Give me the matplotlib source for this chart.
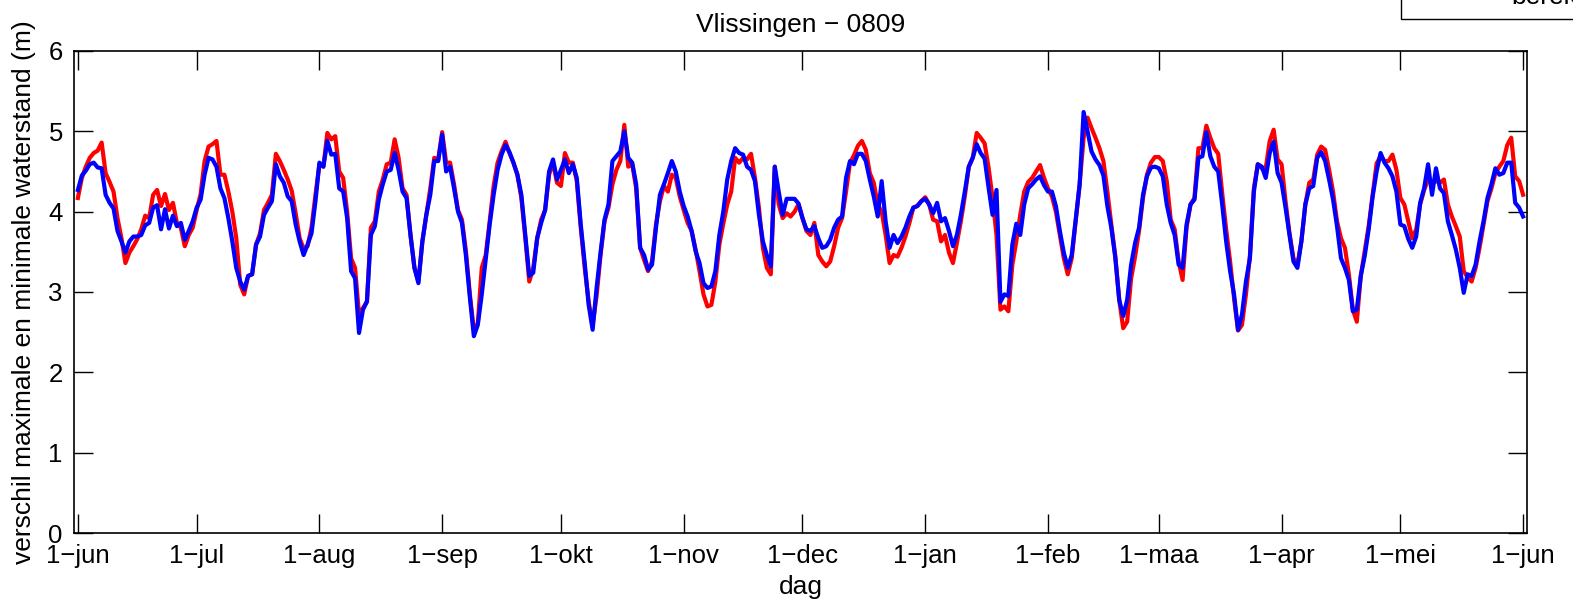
import numpy as np
import pandas as pd
import matplotlib
matplotlib.use("Agg")
import matplotlib.pyplot as plt
import matplotlib.dates as mdates

# daily values, 1 jun 2008 .. 1 jun 2009
gemeten = [
    4.17, 4.42, 4.56, 4.67, 4.73, 4.76, 4.86, 4.48, 4.37, 4.25, 3.92, 3.67, 3.36, 3.49, 3.57, 3.66,
    3.78, 3.95, 3.92, 4.21, 4.27, 4.07, 4.22, 4.02, 4.11, 3.86, 3.80, 3.57, 3.71, 3.80, 4.02, 4.22,
    4.63, 4.81, 4.84, 4.88, 4.46, 4.46, 4.25, 4.00, 3.67, 3.09, 2.97, 3.20, 3.22, 3.59, 3.73, 4.02,
    4.11, 4.21, 4.72, 4.63, 4.52, 4.40, 4.26, 3.98, 3.67, 3.54, 3.57, 3.80, 4.21, 4.59, 4.56, 4.98,
    4.90, 4.94, 4.50, 4.42, 4.00, 3.42, 3.30, 2.72, 2.80, 2.88, 3.80, 3.88, 4.25, 4.40, 4.59, 4.61,
    4.90, 4.67, 4.29, 4.21, 3.71, 3.30, 3.13, 3.63, 3.96, 4.29, 4.67, 4.65, 4.99, 4.61, 4.61, 4.34,
    4.02, 3.90, 3.51, 2.97, 2.53, 2.61, 3.30, 3.46, 3.88, 4.32, 4.61, 4.75, 4.87, 4.73, 4.61, 4.46,
    4.17, 3.67, 3.13, 3.30, 3.67, 3.90, 4.02, 4.46, 4.61, 4.36, 4.32, 4.73, 4.61, 4.61, 4.38, 3.80,
    3.30, 2.88, 2.59, 2.95, 3.46, 3.88, 4.05, 4.34, 4.52, 4.63, 5.08, 4.56, 4.59, 4.29, 3.55, 3.40,
    3.26, 3.38, 3.84, 4.13, 4.32, 4.25, 4.46, 4.42, 4.19, 4.02, 3.86, 3.76, 3.53, 3.26, 2.97, 2.82,
    2.84, 3.13, 3.59, 3.85, 4.09, 4.25, 4.67, 4.61, 4.67, 4.65, 4.72, 4.42, 4.05, 3.55, 3.30, 3.22,
    4.56, 4.09, 3.92, 3.98, 3.94, 4.00, 4.09, 3.92, 3.76, 3.71, 3.86, 3.46, 3.38, 3.32, 3.38, 3.57,
    3.80, 3.92, 4.25, 4.61, 4.70, 4.82, 4.88, 4.77, 4.48, 4.36, 4.09, 4.00, 3.71, 3.36, 3.46, 3.44,
    3.55, 3.69, 3.86, 4.05, 4.07, 4.13, 4.18, 4.09, 3.90, 3.88, 3.63, 3.71, 3.49, 3.36, 3.61, 3.88,
    4.19, 4.56, 4.67, 4.98, 4.92, 4.85, 4.55, 4.17, 3.71, 2.78, 2.82, 2.76, 3.34, 3.63, 3.96, 4.25,
    4.37, 4.42, 4.50, 4.58, 4.42, 4.29, 4.19, 4.00, 3.71, 3.42, 3.22, 3.42, 3.88, 4.34, 4.92, 5.17,
    5.04, 4.92, 4.79, 4.63, 4.25, 3.84, 3.45, 2.90, 2.55, 2.63, 3.17, 3.44, 3.76, 4.17, 4.46, 4.61,
    4.68, 4.68, 4.63, 4.38, 3.90, 3.78, 3.38, 3.15, 3.80, 4.09, 4.17, 4.79, 4.79, 5.07, 4.92, 4.79,
    4.72, 4.23, 3.78, 3.38, 2.92, 2.52, 2.59, 2.97, 3.45, 4.29, 4.59, 4.54, 4.54, 4.88, 5.02, 4.65,
    4.59, 4.13, 3.73, 3.42, 3.34, 3.63, 4.09, 4.36, 4.40, 4.71, 4.81, 4.77, 4.52, 4.25, 3.88, 3.67,
    3.55, 3.22, 2.78, 2.63, 3.20, 3.51, 3.82, 4.21, 4.60, 4.69, 4.63, 4.63, 4.71, 4.52, 4.17, 4.09,
    3.88, 3.67, 3.78, 4.09, 4.27, 4.40, 4.36, 4.38, 4.36, 4.40, 4.09, 3.94, 3.82, 3.69, 3.26, 3.18,
    3.13, 3.30, 3.55, 3.84, 4.13, 4.29, 4.48, 4.56, 4.63, 4.83, 4.92, 4.44, 4.38, 4.21,
]
berekend = [
    4.27, 4.45, 4.51, 4.59, 4.61, 4.55, 4.54, 4.21, 4.11, 4.04, 3.76, 3.63, 3.49, 3.63, 3.69, 3.69,
    3.71, 3.83, 3.86, 4.05, 4.08, 3.78, 4.03, 3.79, 3.95, 3.82, 3.86, 3.65, 3.76, 3.88, 4.05, 4.15,
    4.46, 4.67, 4.65, 4.56, 4.29, 4.17, 3.92, 3.63, 3.30, 3.13, 3.03, 3.20, 3.22, 3.59, 3.69, 3.96,
    4.05, 4.13, 4.59, 4.44, 4.36, 4.19, 4.13, 3.84, 3.63, 3.46, 3.59, 3.73, 4.13, 4.61, 4.56, 4.88,
    4.71, 4.72, 4.29, 4.25, 3.92, 3.26, 3.17, 2.49, 2.78, 2.88, 3.71, 3.82, 4.15, 4.34, 4.50, 4.52,
    4.73, 4.52, 4.25, 4.17, 3.71, 3.30, 3.11, 3.63, 3.96, 4.21, 4.63, 4.63, 4.96, 4.50, 4.56, 4.29,
    4.00, 3.86, 3.45, 2.93, 2.45, 2.59, 2.97, 3.40, 3.84, 4.21, 4.52, 4.71, 4.83, 4.74, 4.61, 4.46,
    4.21, 3.71, 3.20, 3.24, 3.67, 3.86, 4.02, 4.50, 4.65, 4.40, 4.52, 4.65, 4.48, 4.59, 4.42, 3.84,
    3.36, 2.84, 2.53, 3.05, 3.49, 3.90, 4.09, 4.63, 4.69, 4.75, 5.00, 4.67, 4.61, 4.34, 3.55, 3.46,
    3.28, 3.34, 3.80, 4.21, 4.34, 4.48, 4.63, 4.50, 4.25, 4.07, 3.94, 3.76, 3.51, 3.36, 3.11, 3.05,
    3.07, 3.26, 3.71, 4.00, 4.40, 4.63, 4.79, 4.73, 4.71, 4.56, 4.52, 4.38, 3.96, 3.63, 3.46, 3.32,
    4.56, 4.25, 3.96, 4.16, 4.16, 4.16, 4.10, 3.92, 3.78, 3.76, 3.82, 3.67, 3.55, 3.57, 3.65, 3.80,
    3.90, 3.94, 4.42, 4.63, 4.59, 4.72, 4.72, 4.63, 4.40, 4.19, 3.94, 4.38, 3.88, 3.55, 3.71, 3.61,
    3.69, 3.80, 3.94, 4.05, 4.07, 4.13, 4.16, 4.09, 3.98, 4.11, 3.88, 3.92, 3.76, 3.57, 3.71, 3.96,
    4.25, 4.56, 4.67, 4.84, 4.73, 4.66, 4.30, 3.96, 4.27, 2.88, 2.97, 2.95, 3.59, 3.85, 3.71, 4.09,
    4.29, 4.34, 4.40, 4.44, 4.33, 4.25, 4.25, 4.07, 3.76, 3.49, 3.30, 3.46, 3.90, 4.34, 5.24, 5.00,
    4.75, 4.65, 4.58, 4.45, 4.07, 3.80, 3.43, 2.90, 2.70, 2.90, 3.34, 3.61, 3.80, 4.21, 4.44, 4.55,
    4.56, 4.54, 4.44, 4.09, 3.86, 3.71, 3.34, 3.30, 3.84, 4.09, 4.15, 4.67, 4.69, 4.99, 4.69, 4.56,
    4.50, 4.09, 3.63, 3.26, 2.97, 2.53, 2.72, 3.13, 3.42, 4.25, 4.59, 4.56, 4.42, 4.73, 4.87, 4.48,
    4.36, 4.05, 3.71, 3.38, 3.30, 3.63, 4.09, 4.29, 4.32, 4.67, 4.74, 4.63, 4.40, 4.15, 3.82, 3.42,
    3.30, 3.15, 2.76, 2.78, 3.20, 3.45, 3.78, 4.19, 4.50, 4.73, 4.61, 4.54, 4.44, 4.25, 3.84, 3.82,
    3.66, 3.55, 3.69, 4.11, 4.29, 4.59, 4.21, 4.54, 4.29, 4.23, 3.88, 3.71, 3.53, 3.30, 2.99, 3.22,
    3.20, 3.34, 3.63, 3.88, 4.17, 4.34, 4.54, 4.46, 4.48, 4.61, 4.61, 4.11, 4.05, 3.94,
]
dagen = pd.date_range("2008-06-01", periods=len(gemeten), freq="D")

maand_ticks = pd.date_range("2008-06-01", "2009-06-01", freq="MS")
maand_labels = ["1\u2212jun", "1\u2212jul", "1\u2212aug", "1\u2212sep", "1\u2212okt", "1\u2212nov",
                "1\u2212dec", "1\u2212jan", "1\u2212feb", "1\u2212maa", "1\u2212apr", "1\u2212mei",
                "1\u2212jun"]

plt.rcParams['font.family'] = ['Liberation Sans', 'DejaVu Sans']
plt.rcParams['font.size'] = 19

fig = plt.figure(figsize=(15.73, 6.07), dpi=100)
ax = fig.add_axes([0.047, 0.1219, 0.9238, 0.7941])

ax.plot(dagen, gemeten, color='#ff0000', lw=3, label='gemeten')
ax.plot(dagen, berekend, color='#0000ff', lw=3, label='berekend')

ax.set_xlim(pd.Timestamp("2008-05-31"), pd.Timestamp("2009-06-02"))
ax.set_ylim(0, 6)
ax.set_xticks(maand_ticks)
ax.set_xticklabels(maand_labels)
ax.set_yticks(range(7))

ax.tick_params(direction='in', length=14, width=1, top=True, right=True, pad=8,
               colors='black', labelsize=18.5)
for s in ax.spines.values():
    s.set_linewidth(1.2)

ax.set_title("Vlissingen \u2212 0809", fontsize=19, pad=14)
ax.set_xlabel("dag", labelpad=5)
ax.set_ylabel("verschil maximale en minimale waterstand (m)", labelpad=9)

# legend sits mostly above the figure edge, as in the original
fig.legend(loc='lower left', bbox_to_anchor=(0.8907, 0.9687), frameon=True, fancybox=False,
           edgecolor='black', framealpha=1, handlelength=3.0, borderaxespad=0, fontsize=19,
           borderpad=0.38)

fig.savefig("out.png", dpi=100)
